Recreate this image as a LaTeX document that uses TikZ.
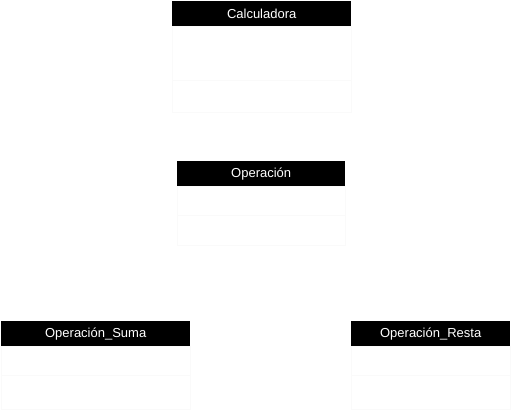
\documentclass[tikz,border=0pt]{standalone}
\usepackage{fontspec}
\setmainfont{Liberation Sans}
\tikzset{
  header/.style={fill=black,text=white,inner sep=0pt,anchor=north west,
    font=\fontsize{13}{15}\selectfont},
  compart/.style={draw=black!2,fill=white}
}
\begin{document}
\begin{tikzpicture}[x=1pt,y=-1pt]
\useasboundingbox (0,0) rectangle (511,410);
% faint class compartments
\draw[compart] (172,26) rectangle (351,112);
\draw[black!2] (172,80) -- (351,80);
\draw[compart] (177,186) rectangle (345,245);
\draw[black!2] (177,215) -- (345,215);
\draw[compart] (1,346) rectangle (190,409);
\draw[black!2] (1,375) -- (190,375);
\draw[compart] (351,346) rectangle (510,409);
\draw[black!2] (351,375) -- (510,375);

% class headers
\foreach \name/\x/\y/\w/\txt in {calc/172/1/179/Calculadora, oper/177/161/168/Operación,
  suma/1/321/189/Operación\_Suma, resta/351/321/159/Operación\_Resta}
{
	\node[header,minimum width=\w pt,minimum height=25pt] (\name) at (\x,\y) {\txt};
}
\end{tikzpicture}
\end{document}
